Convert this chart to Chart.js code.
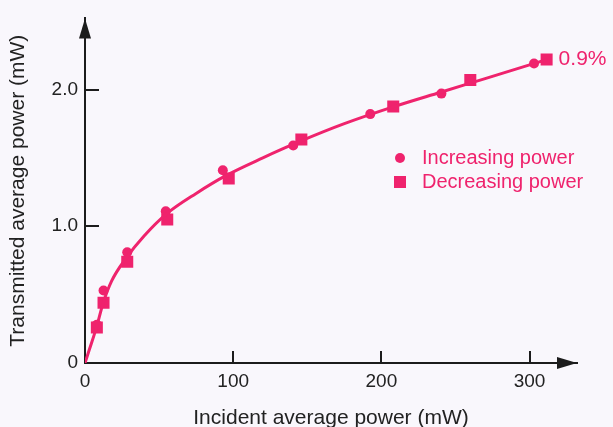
<!DOCTYPE html>
<html>
<head>
<meta charset="utf-8">
<script src="https://cdn.jsdelivr.net/npm/chart.js@4.4.0/dist/chart.umd.min.js"></script>
<style>
  html, body { margin: 0; padding: 0; background: #f9f7fc; }
</style>
</head>
<body>
<canvas id="mychart" width="613" height="427"></canvas>
<script>
// increasing power (circles)
const incX = [8, 12.5, 28.5, 54.5, 93, 140.5, 192.5, 240.5, 303];
const incY = [0.28, 0.53, 0.81, 1.11, 1.41, 1.59, 1.82, 1.97, 2.19];
// decreasing power (squares)
const decX = [8, 12.5, 28.5, 55.5, 97, 146, 208, 260, 311.5];
const decY = [0.26, 0.44, 0.74, 1.05, 1.35, 1.635, 1.875, 2.07, 2.22];
// fitted curve
const fitX = [0, 3, 8, 12, 18, 28, 40, 55, 75, 95, 120, 145, 175, 210, 240, 270, 312];
const fitY = [0, 0.10, 0.27, 0.43, 0.60, 0.77, 0.93, 1.09, 1.24, 1.37, 1.50, 1.62, 1.75, 1.88, 1.98, 2.08, 2.22];

const xTicks = [0, 100, 200, 300];
const yTicks = [0, 1, 2];
const xTitle = 'Incident average power (mW)';
const yTitle = 'Transmitted average power (mW)';
const legendLabels = ['Increasing power', 'Decreasing power'];
const endNote = '0.9%';

const pink = '#ef236d';
const ink = '#1c1c1c';
const bg = '#f9f7fc';
const fontFam = '"Liberation Sans", Arial, Helvetica, sans-serif';

const pts = (xs, ys) => xs.map((x, i) => ({x: x, y: ys[i]}));

const decorPlugin = {
    id: 'decor',
    beforeDraw(chart) {
        const c = chart.ctx;
        c.save();
        c.fillStyle = bg;
        c.fillRect(0, 0, chart.width, chart.height);
        c.restore();
    },
    afterDraw(chart) {
        const c = chart.ctx;
        const xs = chart.scales.x, ys = chart.scales.y;
        const x0 = xs.left, y0 = ys.bottom;
        c.save();
        c.fillStyle = ink;
        c.strokeStyle = ink;
        c.lineWidth = 2;
        // arrow heads
        c.beginPath();
        c.moveTo(x0, ys.top);
        c.lineTo(x0 - 6, ys.top + 20);
        c.lineTo(x0 + 6, ys.top + 20);
        c.closePath();
        c.fill();
        c.beginPath();
        c.moveTo(xs.right, y0);
        c.lineTo(xs.right - 20, y0 - 6);
        c.lineTo(xs.right - 20, y0 + 6);
        c.closePath();
        c.fill();
        // inward ticks
        c.beginPath();
        xTicks.forEach(v => {
            if (v === 0) return;
            const px = Math.round(xs.getPixelForValue(v));
            c.moveTo(px, y0);
            c.lineTo(px, y0 - 12);
        });
        yTicks.forEach(v => {
            if (v === 0) return;
            const py = Math.round(ys.getPixelForValue(v));
            c.moveTo(x0, py);
            c.lineTo(x0 + 14, py);
        });
        c.stroke();

        // legend
        c.fillStyle = pink;
        c.font = '20px ' + fontFam;
        c.textBaseline = 'middle';
        c.textAlign = 'left';
        c.beginPath();
        c.arc(400, 158, 5, 0, Math.PI * 2);
        c.fill();
        c.fillRect(394, 176, 12, 12);
        c.fillText(legendLabels[0], 422, 158);
        c.fillText(legendLabels[1], 422, 182);

        // note next to the last square
        const last = decX.length - 1;
        const lx = xs.getPixelForValue(decX[last]);
        const ly = ys.getPixelForValue(decY[last]);
        c.font = '21px ' + fontFam;
        c.fillText(endNote, lx + 12, ly);
        c.restore();
    }
};

const ctx = document.getElementById('mychart').getContext('2d');

const mychart = new Chart(ctx, {
    type: 'scatter',
    data: {
        datasets: [
            {
                data: pts(fitX, fitY),
                showLine: true,
                borderColor: pink,
                borderWidth: 3,
                pointRadius: 0,
                cubicInterpolationMode: 'monotone'
            },
            {
                data: pts(incX, incY),
                pointStyle: 'circle',
                pointRadius: 5,
                backgroundColor: pink,
                borderColor: pink,
                borderWidth: 0
            },
            {
                data: pts(decX, decY),
                pointStyle: 'rect',
                pointRadius: 8.5,
                backgroundColor: pink,
                borderColor: pink,
                borderWidth: 0
            }
        ]
    },
    options: {
        responsive: false,
        animation: false,
        devicePixelRatio: 1,
        layout: {
            padding: {left: 0, right: 36, top: 13, bottom: 0}
        },
        scales: {
            x: {
                type: 'linear',
                min: 0,
                max: 332,
                afterBuildTicks: s => { s.ticks = xTicks.map(v => ({value: v})); },
                afterFit: s => { s.height = 64; },
                grid: {display: false, drawTicks: false},
                border: {display: true, color: ink, width: 2},
                ticks: {
                    color: '#222',
                    padding: 7,
                    maxRotation: 0,
                    font: {family: fontFam, size: 19},
                    callback: v => String(v)
                },
                title: {
                    display: true,
                    text: xTitle,
                    color: '#222',
                    font: {family: fontFam, size: 21},
                    padding: {top: 0, bottom: -4}
                }
            },
            y: {
                type: 'linear',
                min: 0,
                max: 2.52,
                afterBuildTicks: s => { s.ticks = yTicks.map(v => ({value: v})); },
                afterFit: s => { s.width = 85; },
                grid: {display: false, drawTicks: false},
                border: {display: true, color: ink, width: 2},
                ticks: {
                    color: '#222',
                    padding: 7,
                    font: {family: fontFam, size: 19},
                    callback: v => v === 0 ? '0' : v.toFixed(1)
                },
                title: {
                    display: true,
                    text: yTitle,
                    color: '#222',
                    font: {family: fontFam, size: 21},
                    padding: {top: 6, bottom: 0}
                }
            }
        },
        plugins: {
            legend: {display: false},
            tooltip: {enabled: false}
        }
    },
    plugins: [decorPlugin]
});
</script>
</body>
</html>
